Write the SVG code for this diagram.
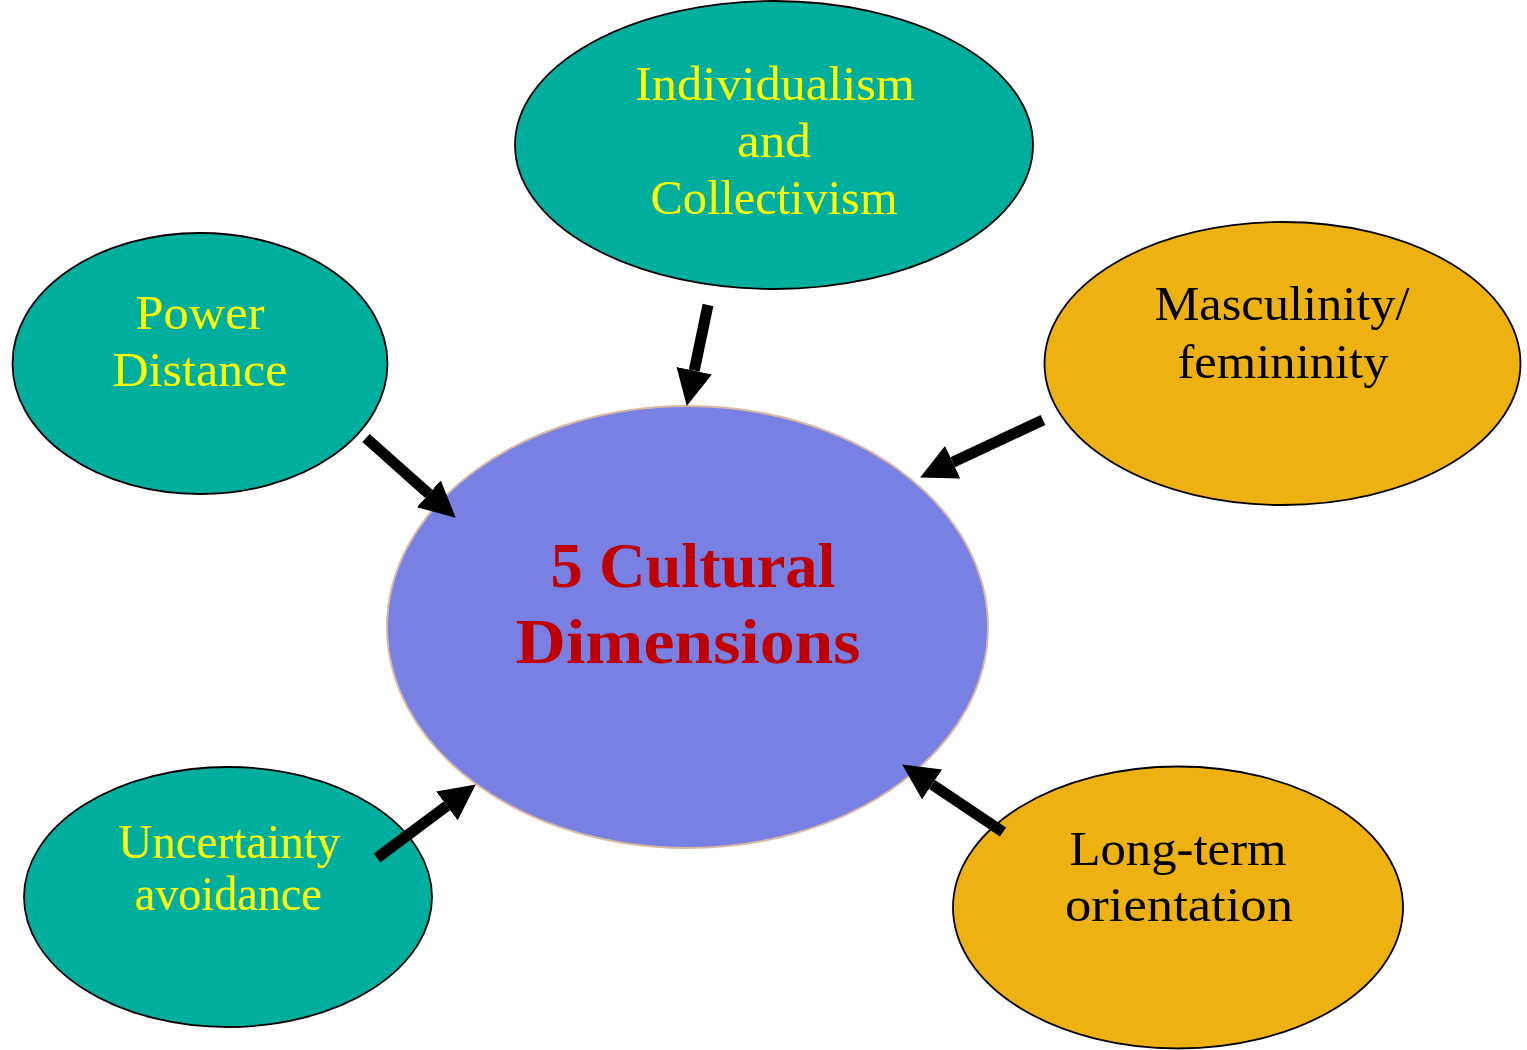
<svg xmlns="http://www.w3.org/2000/svg" width="1527" height="1050" viewBox="0 0 1527 1050">
  <style>
    .teal { fill: #00AE9E; stroke: #000; stroke-width: 1.8; }
    .gold { fill: #EEB112; stroke: #000; stroke-width: 1.8; }
    .core { fill: #7880E4; stroke: #D9B8A2; stroke-width: 2; }
    .lbl { font-family: "Liberation Serif", "Times New Roman", serif; font-size: 48px; text-anchor: middle; }
    .yl { fill: #FFFF00; }
    .bk { fill: #000; }
    .title { font-family: "Liberation Serif", "Times New Roman", serif; font-size: 64px; font-weight: bold; fill: #C00000; text-anchor: middle; }
    .arrow { stroke: #000; stroke-width: 11; fill: none; marker-end: url(#head); }
  </style>
  <defs>
    <marker id="head" markerUnits="userSpaceOnUse" markerWidth="36" markerHeight="36" viewBox="0 0 36 36" refX="0" refY="18" orient="auto">
      <path d="M0,0 L36,18 L0,36 z" fill="#000"/>
    </marker>
  </defs>
  <rect width="1527" height="1050" fill="#fff"/>

  <g id="center">
    <ellipse class="core" cx="687.5" cy="627" rx="300.5" ry="221"/>
    <text class="title" x="693" y="587" textLength="285" lengthAdjust="spacingAndGlyphs">5 Cultural</text>
    <text class="title" x="688" y="663" textLength="345" lengthAdjust="spacingAndGlyphs">Dimensions</text>
  </g>

  <g id="individualism">
    <ellipse class="teal" cx="774" cy="145" rx="259" ry="144"/>
    <text class="lbl yl" x="775" y="100" textLength="280" lengthAdjust="spacingAndGlyphs">Individualism</text>
    <text class="lbl yl" x="774" y="157" textLength="74" lengthAdjust="spacingAndGlyphs">and</text>
    <text class="lbl yl" x="774" y="214" textLength="247" lengthAdjust="spacingAndGlyphs">Collectivism</text>
  </g>

  <g id="power-distance">
    <ellipse class="teal" cx="200" cy="363.5" rx="187.5" ry="130.5"/>
    <text class="lbl yl" x="200" y="329" textLength="129" lengthAdjust="spacingAndGlyphs">Power</text>
    <text class="lbl yl" x="200" y="386" textLength="175" lengthAdjust="spacingAndGlyphs">Distance</text>
  </g>

  <g id="masculinity">
    <ellipse class="gold" cx="1282.5" cy="363.5" rx="238" ry="141.5"/>
    <text class="lbl bk" x="1282" y="320" textLength="255" lengthAdjust="spacingAndGlyphs">Masculinity/</text>
    <text class="lbl bk" x="1283" y="378" textLength="211" lengthAdjust="spacingAndGlyphs">femininity</text>
  </g>

  <g id="uncertainty">
    <ellipse class="teal" cx="228" cy="897" rx="204" ry="130"/>
    <text class="lbl yl" x="229" y="858" font-size="44" textLength="222" lengthAdjust="spacingAndGlyphs">Uncertainty</text>
    <text class="lbl yl" x="228" y="910" font-size="44" textLength="187" lengthAdjust="spacingAndGlyphs">avoidance</text>
  </g>

  <g id="long-term">
    <ellipse class="gold" cx="1178" cy="907.5" rx="225" ry="141"/>
    <text class="lbl bk" x="1178" y="865" textLength="217" lengthAdjust="spacingAndGlyphs">Long-term</text>
    <text class="lbl bk" x="1179" y="921" textLength="228" lengthAdjust="spacingAndGlyphs">orientation</text>
  </g>

  <g id="connectors">
    <line class="arrow" x1="708" y1="305" x2="694.2" y2="370.7"/>
    <line class="arrow" x1="366" y1="438" x2="428.8" y2="493.8"/>
    <line class="arrow" x1="1043" y1="420" x2="952.7" y2="462.2"/>
    <line class="arrow" x1="1003" y1="832" x2="932.1" y2="784.5"/>
    <line class="arrow" x1="377" y1="858" x2="446.9" y2="805.9"/>
  </g>
</svg>
